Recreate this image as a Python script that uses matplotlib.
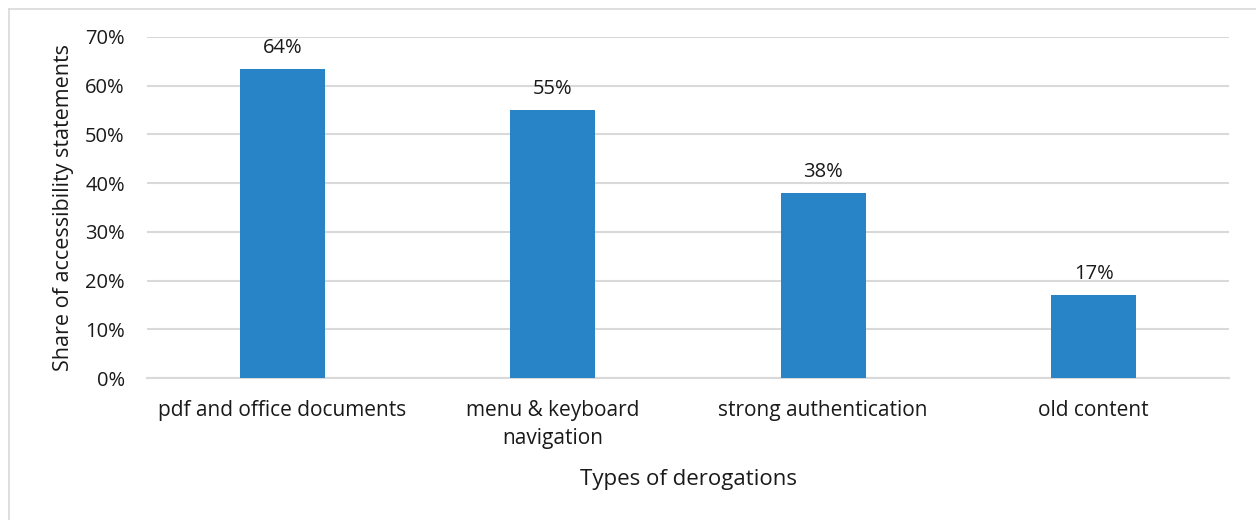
import numpy as np
from matplotlib import pyplot as plt
from matplotlib.lines import Line2D
from matplotlib.ticker import PercentFormatter

categories = ['pdf and office documents', 'menu & keyboard\nnavigation',
              'strong authentication', 'old content']
shares = [0.635, 0.55, 0.38, 0.17]
y_ticks = [0.0, 0.1, 0.2, 0.3, 0.4, 0.5, 0.6, 0.7]


def main():
    plt.rcParams['font.family'] = ['Open Sans', 'DejaVu Sans']

    fig = plt.figure(figsize=(12.56, 5.2), dpi=100)
    ax = fig.add_axes([147 / 1256, 1 - 378 / 520, (1229 - 147) / 1256, (378 - 37) / 520])

    x = np.arange(len(categories))
    bars = ax.bar(x, shares, width=0.315, color='#2884C7', zorder=3)
    for rect, val in zip(bars, shares):
        ax.annotate(f'{round(val * 100):.0f}%',
                    (rect.get_x() + rect.get_width() / 2, rect.get_height()),
                    xytext=(0, 8), textcoords='offset points',
                    ha='center', va='bottom', fontsize=14.5, color='#1a1a1a')

    ax.set_xlim(-0.5, len(categories) - 0.5)
    ax.set_ylim(0, 0.7)
    ax.set_yticks(y_ticks)
    ax.yaxis.set_major_formatter(PercentFormatter(1.0, decimals=0))
    ax.set_xticks(x)
    ax.set_xticklabels(categories, fontsize=15, color='#1a1a1a', linespacing=1.45)
    ax.tick_params(axis='y', labelsize=14.5, labelcolor='#1a1a1a', length=0, pad=16)
    ax.tick_params(axis='x', length=0, pad=16)

    ax.grid(axis='y', color='#d9d9d9', linewidth=1.5, zorder=0)
    for side in ['top', 'right', 'left']:
        ax.spines[side].set_visible(False)
    ax.spines['bottom'].set_color('#d9d9d9')
    ax.spines['bottom'].set_linewidth(1.5)

    ax.set_ylabel('Share of accessibility statements', fontsize=15.5, color='#1a1a1a', labelpad=8)
    ax.set_xlabel('Types of derogations', fontsize=16, color='#1a1a1a', labelpad=14)

    # thin chart-area frame along top and left edges
    fig.add_artist(Line2D([8.5 / 1256, 1], [1 - 8.5 / 520] * 2, color='#d9d9d9', linewidth=1.2))
    fig.add_artist(Line2D([8.5 / 1256] * 2, [0, 1 - 8.5 / 520], color='#d9d9d9', linewidth=1.2))

    fig.savefig('out.png', dpi=100)


if __name__ == "__main__":
    main()
